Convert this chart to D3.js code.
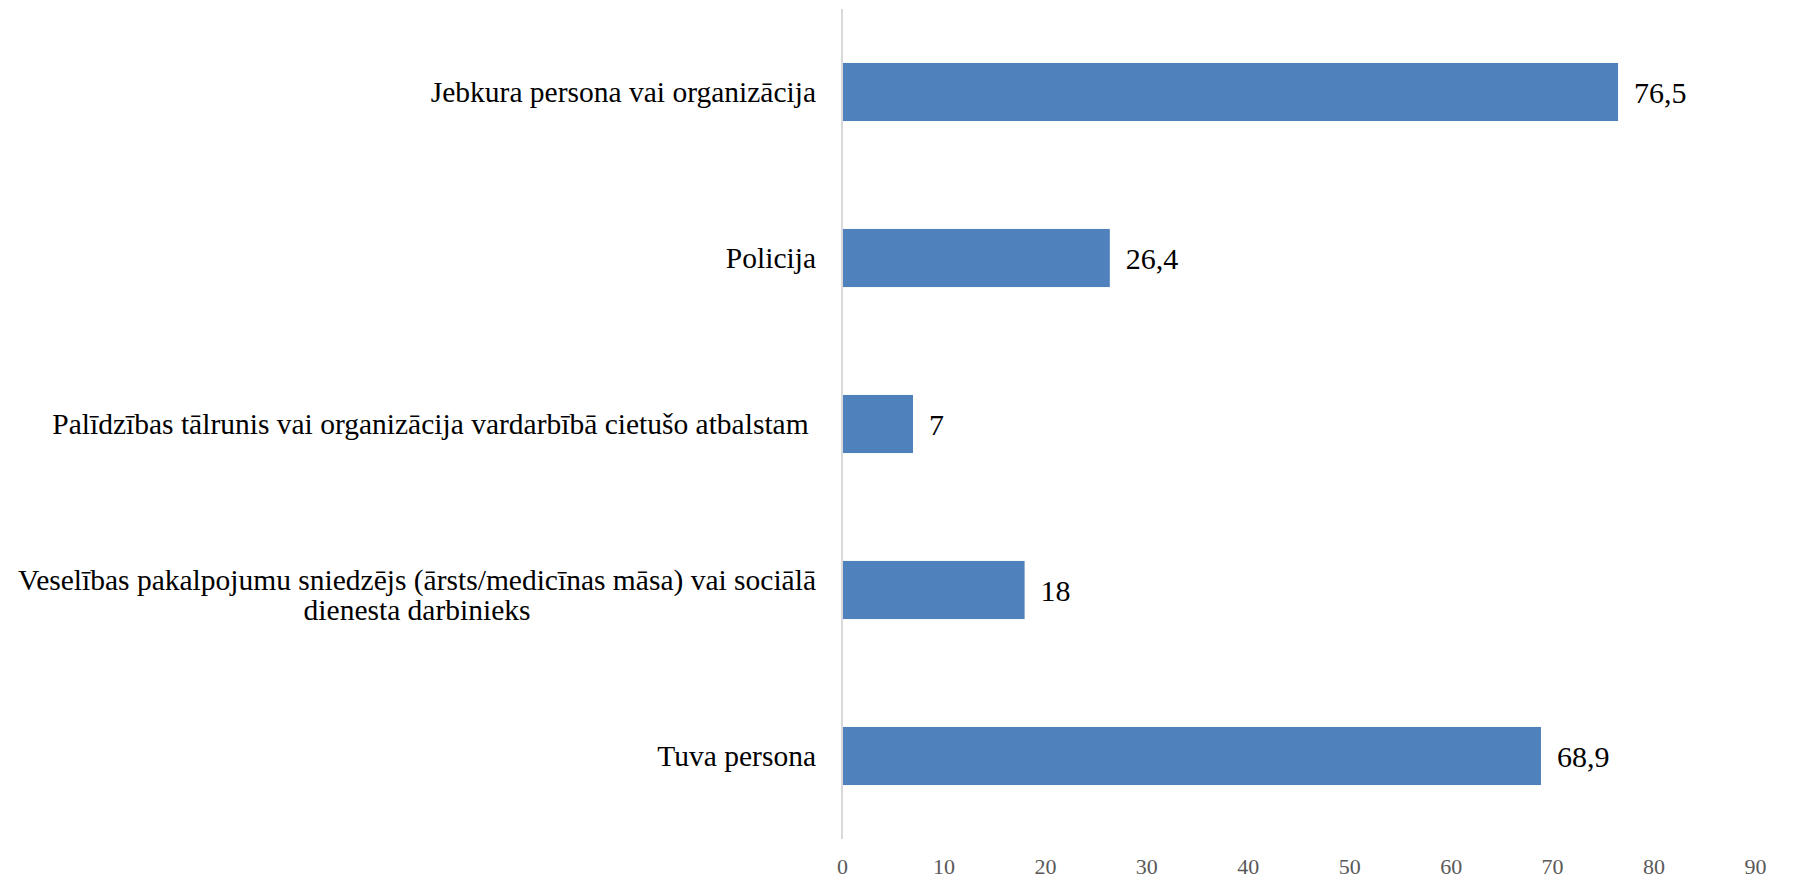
<!DOCTYPE html>
<html>
<head>
<meta charset="utf-8">
<script src="https://cdn.jsdelivr.net/npm/d3@7"></script>
<style>
    body { margin: 0; background: #fff; }
    svg { display: block; }
</style>
</head>
<body>
<svg width="1799" height="879"></svg>
<script>
// categories from top to bottom
const categories = [
    "Jebkura persona vai organizācija",
    "Policija",
    "Palīdzības tālrunis vai organizācija vardarbībā cietušo atbalstam ",
    "Veselības pakalpojumu sniedzējs (ārsts/medicīnas māsa) vai sociālā|dienesta darbinieks",
    "Tuva persona"
];
const values = [76.5, 26.4, 7, 18, 68.9];
const valueLabels = ["76,5", "26,4", "7", "18", "68,9"];
const xTicks = [0, 10, 20, 30, 40, 50, 60, 70, 80, 90];

const svg = d3.select("svg"),
    margin = { top: 9, right: 44, bottom: 40, left: 842 },
    width = +svg.attr("width") - margin.left - margin.right,
    height = +svg.attr("height") - margin.top - margin.bottom,
    g = svg.append("g").attr("transform", `translate(${margin.left},${margin.top})`);

const x = d3.scaleLinear().domain([0, 90]).range([0, width]);
const y = d3.scaleBand().domain(categories).range([0, height]).paddingInner(0.65).paddingOuter(0.325);

const data = categories.map((c, i) => ({ cat: c, value: values[i], label: valueLabels[i] }));

// bars
g.selectAll(".bar")
    .data(data)
    .enter().append("rect")
    .attr("class", "bar")
    .attr("x", x(0))
    .attr("y", d => y(d.cat))
    .attr("width", d => x(d.value) - x(0))
    .attr("height", y.bandwidth())
    .attr("fill", "#4F81BD");

// vertical axis line
g.append("line")
    .attr("x1", x(0)).attr("x2", x(0))
    .attr("y1", 0).attr("y2", height)
    .attr("stroke", "#d9d9d9")
    .attr("stroke-width", 2);

// x tick labels (no axis line)
const xAxis = g.append("g")
    .attr("transform", `translate(0,${height})`)
    .call(d3.axisBottom(x).tickValues(xTicks).tickSize(0).tickPadding(19).tickFormat(d3.format("d")));
xAxis.select(".domain").remove();
xAxis.selectAll("text")
    .attr("font-family", "'Liberation Serif', 'Times New Roman', serif")
    .attr("font-size", 22)
    .attr("fill", "#595959");

// category labels
const catLabels = g.selectAll(".cat")
    .data(data)
    .enter().append("text")
    .attr("class", "cat")
    .attr("font-family", "'Liberation Serif', 'Times New Roman', serif")
    .attr("font-size", 29.5)
    .attr("fill", "#000")
    .attr("text-anchor", "end")
    .attr("xml:space", "preserve");

catLabels.each(function(d) {
    const lines = d.cat.split("|");
    const t = d3.select(this);
    const cy = y(d.cat) + y.bandwidth() / 2;
    const lh = 30;
    if (lines.length === 1) {
        t.append("tspan").attr("x", -26).attr("y", cy).attr("dy", "0.35em").text(lines[0]);
    } else {
        // first line right aligned, following lines centred under it
        const first = t.append("tspan").attr("x", -26).attr("y", cy - lh / 2 + 5).attr("dy", "0.35em").text(lines[0]);
        const w = first.node().getComputedTextLength();
        lines.slice(1).forEach((ln, i) => {
            t.append("tspan")
                .attr("x", -26 - w / 2)
                .attr("y", cy - lh / 2 + 5 + lh * (i + 1))
                .attr("dy", "0.35em")
                .attr("text-anchor", "middle")
                .text(ln);
        });
    }
});

// value labels
g.selectAll(".val")
    .data(data)
    .enter().append("text")
    .attr("class", "val")
    .attr("x", d => x(d.value) + 16)
    .attr("y", d => y(d.cat) + y.bandwidth() / 2)
    .attr("dy", "0.35em")
    .attr("font-family", "'Liberation Serif', 'Times New Roman', serif")
    .attr("font-size", 30)
    .attr("fill", "#000")
    .text(d => d.label);
</script>
</body>
</html>
